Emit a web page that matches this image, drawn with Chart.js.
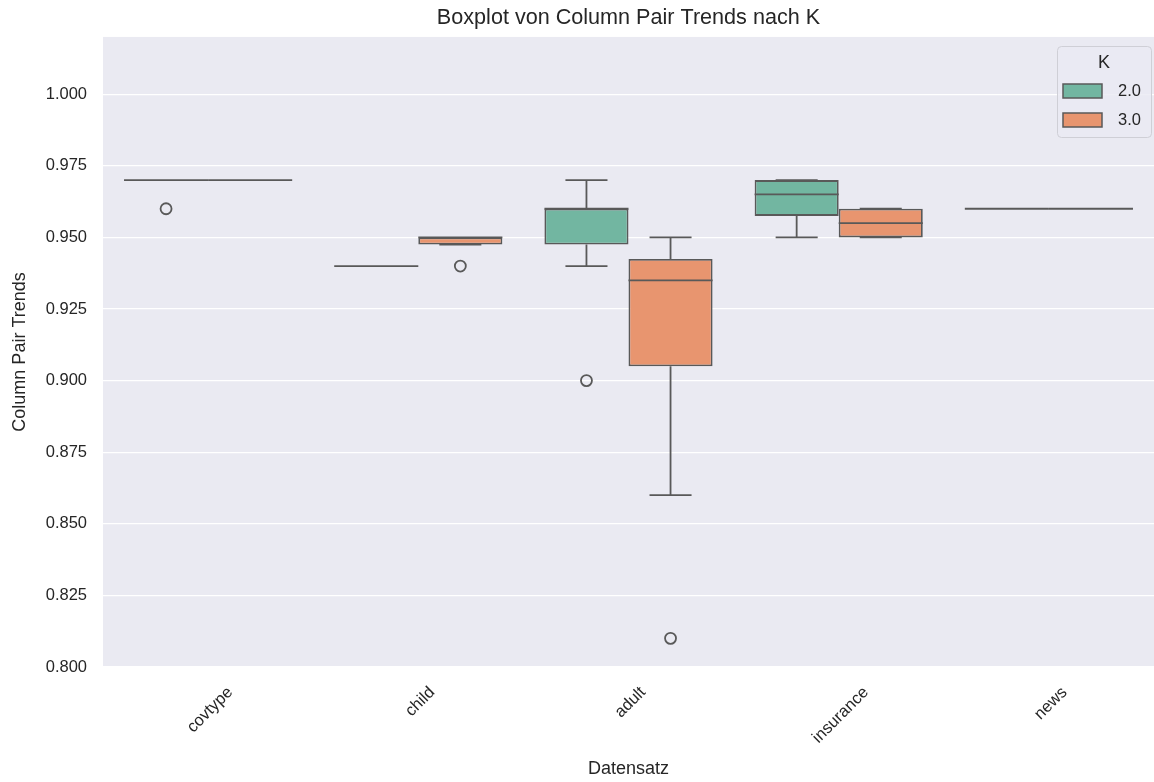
<!DOCTYPE html>
<html>
<head>
<meta charset="utf-8">
<script src="https://cdn.jsdelivr.net/npm/chart.js@4.4.1/dist/chart.umd.min.js"></script>
<style>
  html, body { margin: 0; padding: 0; background: #fff; }
  #wrap { width: 1154px; height: 782px; }
</style>
</head>
<body>
<div id="wrap"><canvas id="boxChart"></canvas></div>
<script>
// data
const categories = ['covtype', 'child', 'adult', 'insurance', 'news'];
const hueLabels = ['2.0', '3.0'];
const yTicks = [0.800, 0.825, 0.850, 0.875, 0.900, 0.925, 0.950, 0.975, 1.000];

// K = 2.0 : [whiskerLow, q1, median, q3, whiskerHigh]
const k2Stats = [
  [0.970, 0.970, 0.970, 0.970, 0.970],
  [0.940, 0.940, 0.940, 0.940, 0.940],
  [0.940, 0.9475, 0.960, 0.960, 0.970],
  [0.950, 0.9575, 0.965, 0.970, 0.970],
  [0.960, 0.960, 0.960, 0.960, 0.960]
];
const k2Outliers = [[0.960], [], [0.900], [], []];

// K = 3.0
const k3Stats = [
  [0.970, 0.970, 0.970, 0.970, 0.970],
  [0.9475, 0.9475, 0.950, 0.950, 0.950],
  [0.860, 0.905, 0.935, 0.9425, 0.950],
  [0.950, 0.950, 0.955, 0.960, 0.960],
  [0.960, 0.960, 0.960, 0.960, 0.960]
];
const k3Outliers = [[], [0.940], [0.810], [], []];

const green = '#72b6a1';
const orange = '#e8956f';
const lineGray = '#595959';
const textDark = '#262626';
const fontFam = '"Liberation Sans", Arial, Helvetica, sans-serif';

const statsBySet = [k2Stats, k3Stats];
const outliersBySet = [k2Outliers, k3Outliers];

// background of the plot area
const plotBg = {
  id: 'plotBg',
  beforeDraw(chart) {
    const a = chart.chartArea, c = chart.ctx;
    c.save();
    c.fillStyle = '#eaeaf2';
    c.fillRect(a.left, a.top, a.right - a.left, a.bottom - a.top);
    c.restore();
  }
};

// whiskers, medians, outliers, x labels, legend
const boxParts = {
  id: 'boxParts',
  afterDatasetsDraw(chart) {
    const c = chart.ctx, y = chart.scales.y;
    c.save();
    c.strokeStyle = lineGray;
    c.lineWidth = 1.8;
    statsBySet.forEach((stats, di) => {
      const meta = chart.getDatasetMeta(di);
      stats.forEach((s, i) => {
        const bar = meta.data[i];
        const cx = bar.x, w = bar.width;
        const [lo, q1, med, q3, hi] = s.map(v => y.getPixelForValue(v));
        c.beginPath();
        // whiskers
        c.moveTo(cx, q1); c.lineTo(cx, lo);
        c.moveTo(cx, q3); c.lineTo(cx, hi);
        // caps
        c.moveTo(cx - w / 4, lo); c.lineTo(cx + w / 4, lo);
        c.moveTo(cx - w / 4, hi); c.lineTo(cx + w / 4, hi);
        // median
        c.moveTo(cx - w / 2, med); c.lineTo(cx + w / 2, med);
        c.stroke();
        outliersBySet[di][i].forEach(v => {
          c.beginPath();
          c.arc(cx, y.getPixelForValue(v), 5.5, 0, Math.PI * 2);
          c.stroke();
        });
      });
    });
    c.restore();
  },
  afterDraw(chart) {
    const c = chart.ctx, x = chart.scales.x, a = chart.chartArea;
    c.save();
    // rotated category labels, centred on the tick like matplotlib
    const fs = 16.5;
    c.fillStyle = textDark;
    c.font = fs + 'px ' + fontFam;
    c.textAlign = 'center';
    c.textBaseline = 'middle';
    categories.forEach((lab, i) => {
      const px = x.getPixelForValue(i);
      const tw = c.measureText(lab).width;
      const half = (tw + fs) * Math.SQRT1_2 / 2;
      c.save();
      c.translate(px + 2, a.bottom + 17 + half);
      c.rotate(-Math.PI / 4);
      c.fillText(lab, 0, 0);
      c.restore();
    });
    // legend
    const lx = 1057, ly = 46, lw = 94, lh = 91;
    c.fillStyle = 'rgba(234,234,242,0.8)';
    c.strokeStyle = '#cfcfd6';
    c.lineWidth = 1;
    c.beginPath();
    c.roundRect(lx + 0.5, ly + 0.5, lw, lh, 4);
    c.fill();
    c.stroke();
    c.fillStyle = textDark;
    c.font = '18px ' + fontFam;
    c.textAlign = 'center';
    c.fillText('K', lx + lw / 2, 63);
    c.textAlign = 'left';
    c.font = fs + 'px ' + fontFam;
    [green, orange].forEach((col, i) => {
      const py = 84 + i * 29;
      c.fillStyle = col;
      c.fillRect(1063, py, 39, 14);
      c.strokeStyle = lineGray;
      c.lineWidth = 1.5;
      c.strokeRect(1063, py, 39, 14);
      c.fillStyle = textDark;
      c.fillText(hueLabels[i], 1118, py + 7.5);
    });
    c.restore();
  }
};

new Chart(document.getElementById('boxChart'), {
  type: 'bar',
  data: {
    labels: categories,
    datasets: [
      {
        label: hueLabels[0],
        data: k2Stats.map(s => [s[1], s[3]]),
        backgroundColor: green,
        borderColor: lineGray,
        borderWidth: 1.8,
        borderSkipped: false
      },
      {
        label: hueLabels[1],
        data: k3Stats.map(s => [s[1], s[3]]),
        backgroundColor: orange,
        borderColor: lineGray,
        borderWidth: 1.8,
        borderSkipped: false
      }
    ]
  },
  options: {
    responsive: true,
    maintainAspectRatio: false,
    animation: false,
    categoryPercentage: 0.8,
    barPercentage: 1.0,
    layout: { padding: 0 },
    plugins: {
      legend: { display: false },
      tooltip: { enabled: false },
      title: {
        display: true,
        fullSize: false,
        text: 'Boxplot von Column Pair Trends nach K',
        color: textDark,
        font: { family: fontFam, size: 21.6, weight: 'normal' },
        padding: { top: 5, bottom: 6 }
      }
    },
    scales: {
      x: {
        grid: { display: false },
        border: { display: false },
        ticks: { display: false },
        afterFit(scale) { scale.height = 115; },
        title: {
          display: true,
          text: 'Datensatz',
          color: textDark,
          font: { family: fontFam, size: 18 },
          padding: { top: 0, bottom: 2 }
        }
      },
      y: {
        min: 0.8,
        max: 1.02,
        afterBuildTicks(scale) { scale.ticks = yTicks.map(v => ({ value: v })); },
        afterFit(scale) { scale.width = 103; },
        grid: { color: '#ffffff', lineWidth: 1.2, drawTicks: false },
        border: { display: false },
        ticks: {
          color: textDark,
          font: { family: fontFam, size: 16.5 },
          padding: 16,
          callback: v => Number(v).toFixed(3)
        },
        title: {
          display: true,
          text: 'Column Pair Trends',
          color: textDark,
          font: { family: fontFam, size: 18 },
          padding: { top: 9, bottom: 0 }
        }
      }
    }
  },
  plugins: [plotBg, boxParts]
});
</script>
</body>
</html>
